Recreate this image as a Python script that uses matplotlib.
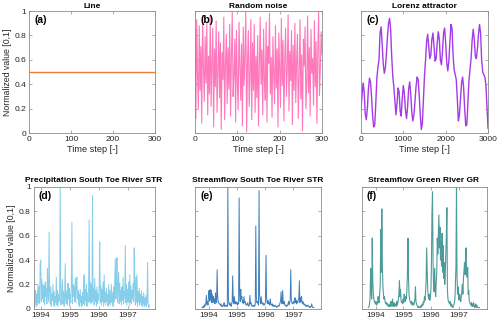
import numpy as np
import pandas as pd
import matplotlib
matplotlib.use('Agg')
import matplotlib.pyplot as plt
import matplotlib.dates as mdates

plt.rcParams['font.family'] = ['Liberation Sans', 'DejaVu Sans']

# Panel (a): constant line
line_t = [0, 300]
line_val = [0.5, 0.5]

# Panel (b): random noise, one value every 2 time steps
noise = [
    0.85, 0.12, 0.93, 0.47, 0.20, 0.88, 0.35, 0.71, 0.08, 0.96, 0.54, 0.26, 0.79, 0.41, 0.90, 0.15, 0.63, 0.32, 0.97, 0.22,
    0.58, 0.86, 0.05, 0.69, 0.38, 0.92, 0.17, 0.51, 0.83, 0.29, 0.74, 0.03, 0.66, 0.44, 0.95, 0.11, 0.57, 0.81, 0.24, 0.70,
    0.36, 0.89, 0.14, 0.62, 0.99, 0.30, 0.48, 0.77, 0.09, 0.84, 0.42, 0.19, 0.91, 0.55, 0.27, 0.73, 0.06, 0.87, 0.39, 0.64,
    1.00, 0.01, 0.58, 0.84, 0.22, 0.47, 0.93, 0.11, 0.74, 0.35, 0.89, 0.17, 0.63, 0.29, 0.80, 0.06, 0.54, 0.95, 0.40, 0.68,
    0.15, 0.85, 0.44, 0.27, 0.91, 0.09, 0.71, 0.57, 0.98, 0.32, 0.62, 0.13, 0.79, 0.48, 0.24, 0.88, 0.37, 0.69, 0.05, 0.82,
    0.50, 0.21, 0.94, 0.39, 0.76, 0.10, 0.60, 0.86, 0.30, 0.53, 0.97, 0.18, 0.67, 0.43, 0.84, 0.07, 0.72, 0.35, 0.90, 0.25,
    0.59, 0.81, 0.12, 0.46, 0.93, 0.28, 0.64, 0.02, 0.77, 0.55, 0.87, 0.20, 0.41, 0.96, 0.33, 0.70, 0.14, 0.85, 0.49, 0.61,
    0.23, 0.92, 0.38, 0.75, 0.08, 0.66, 0.99, 0.31, 0.52, 0.83, 0.64,
]
noise_step = 2

# Panel (c): Lorenz attractor, one value every 25 time steps
lorenz = [
    0.20, 0.31, 0.41, 0.34, 0.16, 0.11, 0.20, 0.36, 0.45, 0.42, 0.29, 0.14, 0.05, 0.07, 0.25, 0.45,
    0.54, 0.60, 0.82, 0.87, 0.73, 0.57, 0.49, 0.53, 0.65, 0.79, 0.90, 0.94, 0.85, 0.63, 0.47, 0.38,
    0.27, 0.15, 0.24, 0.37, 0.34, 0.18, 0.14, 0.29, 0.39, 0.32, 0.19, 0.12, 0.21, 0.36, 0.42, 0.32,
    0.17, 0.10, 0.15, 0.26, 0.38, 0.46, 0.44, 0.31, 0.15, 0.03, 0.08, 0.28, 0.47, 0.60, 0.75, 0.81,
    0.71, 0.61, 0.64, 0.77, 0.82, 0.71, 0.59, 0.61, 0.74, 0.83, 0.77, 0.60, 0.56, 0.67, 0.82, 0.86,
    0.74, 0.58, 0.51, 0.59, 0.75, 0.89, 0.86, 0.64, 0.52, 0.48, 0.44, 0.28, 0.10, 0.15, 0.28, 0.41,
    0.46, 0.37, 0.19, 0.06, 0.07, 0.25, 0.43, 0.52, 0.61, 0.76, 0.85, 0.77, 0.63, 0.61, 0.69, 0.81,
    0.89, 0.82, 0.60, 0.50, 0.48, 0.46, 0.40, 0.22, 0.04,
]
lorenz_step = 25

# Panels (d)-(f): weekly samples from Oct 1993
start_date = '1993-10-01'
precip_str = [
    0.00, 0.02, 0.01, 0.06, 0.15, 0.02, 0.12, 0.03, 0.20, 0.05,
    0.18, 0.04, 0.37, 0.40, 0.06, 0.24, 0.08, 0.20, 0.05, 0.19,
    0.03, 0.22, 0.10, 0.17, 0.04, 0.33, 0.12, 0.06, 0.63, 0.15,
    0.04, 0.18, 0.02, 0.12, 0.07, 0.20, 0.03, 0.14, 0.02, 0.10,
    0.05, 0.26, 0.03, 0.15, 0.02, 0.12, 0.06, 0.18, 1.00, 0.03,
    0.05, 0.16, 0.24, 0.04, 0.14, 0.02, 0.10, 0.37, 0.06, 0.04,
    0.15, 0.03, 0.21, 0.08, 0.17, 0.02, 0.12, 0.05, 0.19, 0.71,
    0.04, 0.20, 0.10, 0.18, 0.06, 0.25, 0.05, 0.22, 0.26, 0.08,
    0.15, 0.03, 0.12, 0.02, 0.16, 0.05, 0.10, 0.02, 0.14, 0.04,
    0.18, 0.28, 0.03, 0.16, 0.07, 0.20, 0.02, 0.13, 0.05, 0.18,
    0.73, 0.06, 0.22, 0.04, 0.20, 0.05, 0.93, 0.08, 0.17, 0.03,
    0.25, 0.06, 0.15, 0.02, 0.18, 0.04, 0.12, 0.07, 0.20, 0.55,
    0.05, 0.19, 0.03, 0.16, 0.06, 0.22, 0.02, 0.28, 0.05, 0.14,
    0.03, 0.17, 0.06, 0.12, 0.02, 0.20, 0.04, 0.15, 0.03, 0.11,
    0.20, 0.05, 0.13, 0.02, 0.18, 0.06, 0.22, 0.41, 0.08, 0.19,
    0.42, 0.05, 0.17, 0.30, 0.04, 0.21, 0.06, 0.15, 0.03, 0.18,
    0.07, 0.26, 0.04, 0.14, 0.09, 0.52, 0.05, 0.20, 0.03, 0.16,
    0.06, 0.22, 0.02, 0.28, 0.05, 0.19, 0.04, 0.15, 0.08, 0.21,
    0.06, 0.50, 0.18, 0.03, 0.26, 0.05, 0.28, 0.02, 0.14, 0.06,
    0.17, 0.03, 0.12, 0.05, 0.15, 0.02, 0.10, 0.04, 0.13, 0.02,
    0.09, 0.03, 0.11, 0.02, 0.06, 0.38, 0.04, 0.01, 0.03,
]
flow_str = [
    0.01, 0.01, 0.02, 0.01, 0.03, 0.02, 0.04, 0.03, 0.11, 0.04,
    0.06, 0.03, 0.10, 0.15, 0.06, 0.16, 0.07, 0.15, 0.05, 0.12,
    0.05, 0.10, 0.06, 0.08, 0.04, 0.13, 0.07, 0.05, 0.32, 0.10,
    0.06, 0.05, 0.04, 0.04, 0.03, 0.04, 0.02, 0.03, 0.02, 0.02,
    0.03, 0.05, 0.02, 0.03, 0.02, 0.02, 0.03, 0.02, 1.00, 0.08,
    0.04, 0.03, 0.05, 0.03, 0.02, 0.04, 0.06, 0.27, 0.06, 0.04,
    0.10, 0.05, 0.04, 0.06, 0.04, 0.05, 0.03, 0.05, 0.04, 0.91,
    0.12, 0.06, 0.16, 0.08, 0.10, 0.05, 0.07, 0.04, 0.10, 0.05,
    0.06, 0.04, 0.03, 0.04, 0.03, 0.05, 0.03, 0.02, 0.03, 0.11,
    0.04, 0.05, 0.03, 0.02, 0.03, 0.02, 0.02, 0.03, 0.02, 0.04,
    0.68, 0.10, 0.05, 0.06, 0.04, 0.03, 0.97, 0.12, 0.06, 0.04,
    0.10, 0.05, 0.04, 0.05, 0.03, 0.04, 0.03, 0.04, 0.06, 0.44,
    0.10, 0.05, 0.04, 0.07, 0.04, 0.05, 0.03, 0.08, 0.04, 0.03,
    0.03, 0.04, 0.02, 0.03, 0.02, 0.02, 0.03, 0.02, 0.02, 0.01,
    0.02, 0.02, 0.03, 0.02, 0.03, 0.05, 0.06, 0.14, 0.05, 0.04,
    0.15, 0.05, 0.04, 0.06, 0.03, 0.03, 0.02, 0.03, 0.02, 0.03,
    0.04, 0.06, 0.03, 0.05, 0.07, 0.32, 0.08, 0.05, 0.04, 0.05,
    0.06, 0.04, 0.06, 0.09, 0.05, 0.07, 0.04, 0.06, 0.05, 0.08,
    0.08, 0.23, 0.05, 0.09, 0.06, 0.10, 0.05, 0.04, 0.06, 0.04,
    0.03, 0.04, 0.03, 0.02, 0.03, 0.02, 0.02, 0.03, 0.02, 0.02,
    0.01, 0.02, 0.01, 0.02, 0.04, 0.02, 0.01, 0.01, 0.01,
]
flow_gr = [
    0.01, 0.02, 0.04, 0.10, 0.33, 0.14, 0.08, 0.58, 0.22, 0.12,
    0.08, 0.06, 0.05, 0.04, 0.06, 0.03, 0.05, 0.04, 0.10, 0.06,
    0.05, 0.12, 0.20, 0.65, 0.30, 0.82, 0.35, 0.19, 0.12, 0.08,
    0.10, 0.06, 0.05, 0.04, 0.05, 0.03, 0.04, 0.02, 0.03, 0.02,
    0.04, 0.02, 0.06, 0.03, 0.02, 0.08, 0.03, 0.02, 0.05, 0.02,
    0.03, 0.04, 0.02, 0.06, 0.03, 0.05, 0.08, 0.12, 0.23, 0.10,
    0.16, 0.07, 0.05, 0.06, 0.04, 0.08, 0.05, 0.12, 0.07, 0.06,
    0.10, 0.08, 0.15, 0.30, 0.58, 0.25, 0.12, 0.08, 0.06, 0.05,
    0.04, 0.06, 0.03, 0.05, 0.04, 0.03, 0.05, 0.08, 0.18, 0.06,
    0.04, 0.03, 0.02, 0.01, 0.02, 0.01, 0.01, 0.02, 0.01, 0.03,
    0.02, 0.04, 0.03, 0.06, 0.05, 0.10, 0.07, 0.14, 0.22, 0.50,
    0.33, 0.16, 0.10, 0.08, 0.12, 0.07, 0.10, 0.15, 0.35, 0.78,
    0.96, 0.40, 0.19, 0.14, 0.33, 0.16, 0.10, 0.22, 0.30, 0.58,
    0.45, 0.60, 0.77, 0.50, 0.67, 0.40, 0.55, 0.35, 0.62, 0.30,
    0.52, 0.25, 0.38, 0.20, 0.30, 0.45, 0.60, 0.83, 0.15, 0.08,
    0.06, 0.05, 0.04, 0.06, 0.03, 0.02, 0.04, 0.02, 0.01, 0.02,
    0.03, 0.05, 0.08, 0.20, 0.35, 1.00, 0.27, 0.12, 0.18, 0.09,
    0.07, 0.12, 0.08, 0.06, 0.10, 0.14, 0.20, 0.12, 0.25, 0.30,
    0.38, 0.28, 0.42, 0.50, 0.30, 0.26, 0.34, 0.12, 0.15, 0.06,
    0.05, 0.04, 0.03, 0.05, 0.02, 0.04, 0.02, 0.05, 0.03, 0.01,
    0.02, 0.04, 0.01, 0.03, 0.02, 0.01, 0.01, 0.01, 0.01,
]

titles = ['Line', 'Random noise', 'Lorenz attractor',
          'Precipitation South Toe River STR', 'Streamflow South Toe River STR',
          'Streamflow Green River GR']
letters = ['(a)', '(b)', '(c)', '(d)', '(e)', '(f)']

fig = plt.figure(figsize=(5, 3.24), dpi=100)

positions = [
    [0.058, 0.589, 0.252, 0.377],
    [0.390, 0.589, 0.254, 0.377],
    [0.722, 0.589, 0.254, 0.377],
    [0.067, 0.047, 0.242, 0.376],
    [0.390, 0.047, 0.252, 0.376],
    [0.723, 0.047, 0.250, 0.376],
]
axes = [fig.add_axes(p) for p in positions]

tick_color = '#262626'
for ax in axes:
    for s in ax.spines.values():
        s.set_color('#8c8c8c')
        s.set_linewidth(0.6)
    ax.tick_params(direction='in', length=2, width=0.5, color='#8c8c8c',
                   labelsize=6, labelcolor=tick_color, top=True, right=True, pad=2)
    ax.set_ylim(0, 1)

# (a)
axes[0].plot(line_t, line_val, color='#ee7d31', lw=1.0)
axes[0].set_xlim(0, 300)

# (b)
axes[1].plot(np.arange(len(noise)) * noise_step, noise, color='#ff69b4', lw=0.8, alpha=0.9)
axes[1].set_xlim(0, 300)

# (c)
axes[2].plot(np.arange(len(lorenz)) * lorenz_step, lorenz, color='#a43be6', lw=1.0)
axes[2].set_xlim(0, 3000)

for ax in axes[:3]:
    ax.set_xlabel('Time step [-]', fontsize=6.6, color=tick_color, labelpad=1.5)
axes[0].set_xticks([0, 100, 200, 300])
axes[1].set_xticks([0, 100, 200, 300])
axes[2].set_xticks([0, 1000, 2000, 3000])

# bottom row, time series
dates = pd.date_range(start_date, periods=len(precip_str), freq='7D')
axes[3].plot(dates, precip_str, color='#87ceeb', lw=0.7)
axes[4].plot(dates, flow_str, color='#3f7fbb', lw=0.7)
axes[5].plot(dates, flow_gr, color='#4e9c9a', lw=0.8)

axes[3].set_xlim(pd.Timestamp('1993-10-01'), pd.Timestamp('1997-12-01'))
for ax in axes[4:]:
    ax.set_xlim(pd.Timestamp('1993-07-01'), pd.Timestamp('1997-12-28'))
for ax in axes[3:]:
    ax.xaxis.set_major_locator(mdates.YearLocator())
    ax.xaxis.set_major_formatter(mdates.DateFormatter('%Y'))

for i, ax in enumerate(axes):
    ax.set_yticks([0, 0.2, 0.4, 0.6, 0.8, 1])
    if i in (0, 3):
        ax.set_yticklabels(['0', '0.2', '0.4', '0.6', '0.8', '1'])
        ax.set_ylabel('Normalized value [0,1]', fontsize=6.3, color=tick_color, labelpad=2)
    else:
        ax.set_yticklabels([])
    ax.set_title(titles[i], fontsize=6.0, fontweight='bold', pad=2 if i < 3 else 3.5)
    ax.text(0.04, 0.965, letters[i], transform=ax.transAxes, fontsize=7.5,
            fontweight='bold', va='top', ha='left')

fig.savefig('out.png', dpi=100)
